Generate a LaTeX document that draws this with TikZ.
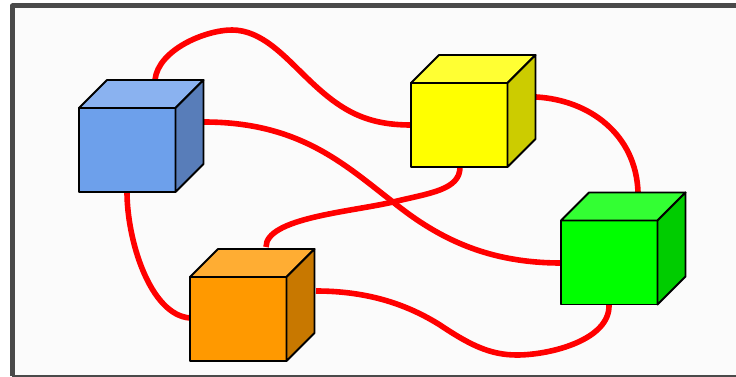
\documentclass[tikz,border=0pt]{standalone}
\begin{document}
\begin{tikzpicture}[x=1pt,y=-1pt,
  wire/.style={draw=wred,line width=5.6pt,line cap=butt},
  face/.style={draw=black,line width=1.9pt,line join=round}]
\definecolor{wred}{RGB}{255,0,0}
\definecolor{frame}{RGB}{74,74,74}
\definecolor{panel}{RGB}{251,251,251}
\useasboundingbox (0,0) rectangle (736,377);
\fill[white] (0,0) rectangle (736,377);
\fill[panel] (12,6) rectangle (740,376);
\draw[frame,line width=5pt,line join=round] (12.5,376) -- (12.5,6) -- (740,6);
\draw[frame,line width=2.5pt] (12,376.5) -- (740,376.5);
\newcommand{\cube}[6]{% name,x,y,front,top,side
  \coordinate (#1) at (#2,#3);
  \fill[#4] (#2,#3) rectangle ++(96.5,84);
  \draw[face] (#2,#3) rectangle ++(96.5,84);
  \filldraw[face,fill=#5] (#2,#3) -- ++(28,-28) -- ++(96.5,0) -- ++(-28,28) -- cycle;
  \filldraw[face,fill=#6] (#2+96.5,#3) -- ++(28,-28) -- ++(0,84) -- ++(-28,28) -- cycle;
}
\definecolor{bf}{RGB}{109,160,235}\definecolor{bt}{RGB}{138,178,240}\definecolor{bs}{RGB}{88,125,185}
\definecolor{yf}{RGB}{255,255,0}\definecolor{yt}{RGB}{255,255,51}\definecolor{ys}{RGB}{204,204,0}
\definecolor{gf}{RGB}{0,255,0}\definecolor{gt}{RGB}{51,255,51}\definecolor{gs}{RGB}{0,204,0}
\definecolor{of}{RGB}{255,153,0}\definecolor{ot}{RGB}{255,173,51}\definecolor{os}{RGB}{200,120,0}
\path[wire] (155,80) .. controls (158,50) and (205,30) .. (232,30) .. controls (262,30) and (285,57) .. (307,78) .. controls (340,110) and (365,125) .. (411,125);
\path[wire] (204,122) .. controls (300,122) and (345,165) .. (393,202) .. controls (440,240) and (490,263) .. (561,263);
\path[wire] (127,192) .. controls (127,240) and (150,315) .. (190,318);
\path[wire] (460,167) .. controls (460,190) and (430,193) .. (393,202) .. controls (350,212) and (266,218) .. (266,247);
\path[wire] (536,97) .. controls (590,100) and (636,135) .. (638,192);
\path[wire] (316,291) .. controls (365,291) and (405,303) .. (440,325) .. controls (470,345) and (490,355) .. (517,355) .. controls (550,355) and (610,340) .. (609,305);
\cube{a}{79}{108}{bf}{bt}{bs}
\cube{b}{411}{83}{yf}{yt}{ys}
\cube{c}{561}{220.5}{gf}{gt}{gs}
\cube{d}{190}{277}{of}{ot}{os}
\end{tikzpicture}
\end{document}
